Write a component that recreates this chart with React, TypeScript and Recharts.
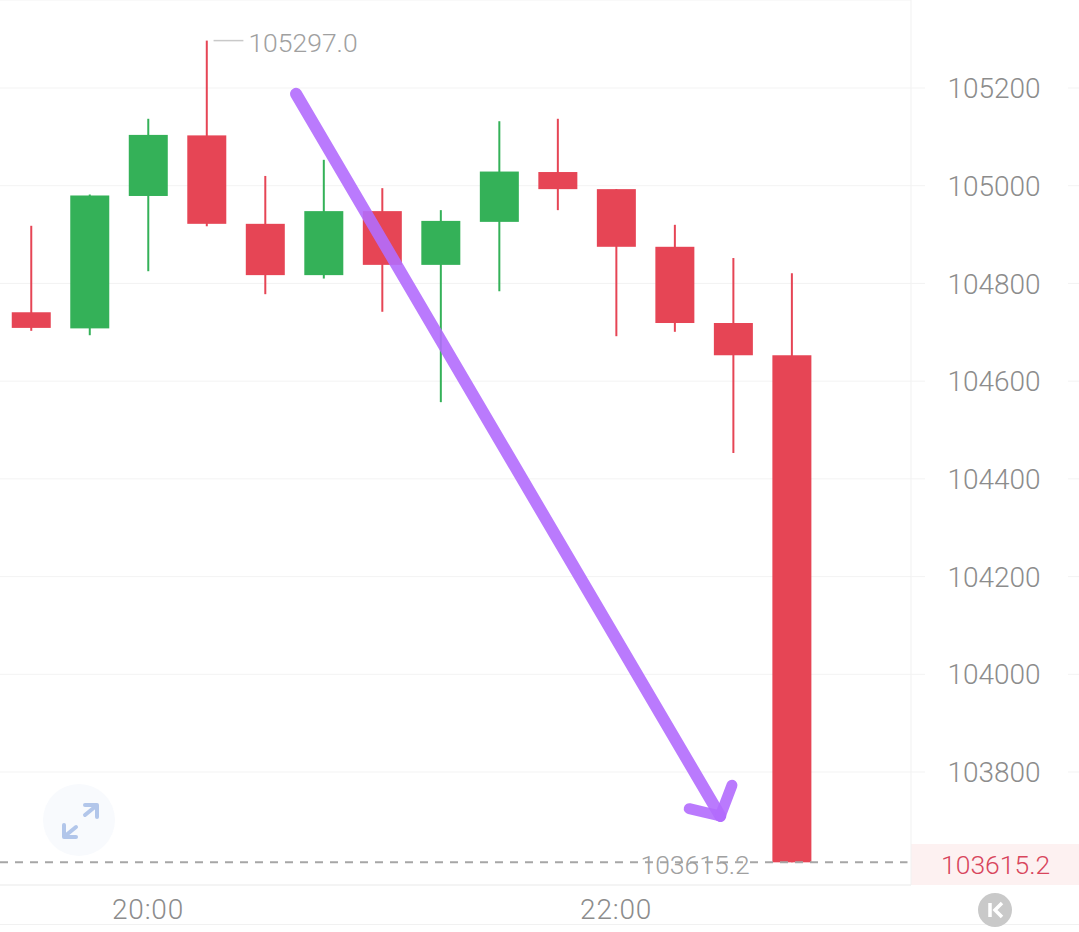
import React from 'react';
import { ComposedChart, Bar, XAxis, YAxis, CartesianGrid, ReferenceLine, ReferenceDot } from 'recharts';

const times = ['19:30', '19:45', '20:00', '20:15', '20:30', '20:45', '21:00', '21:15', '21:30', '21:45', '22:00', '22:15', '22:30', '22:45'];
const opens = [104741, 104708, 104979, 105103, 104922, 104817, 104948, 104838, 104926, 105028, 104993, 104875, 104719, 104653];
const closes = [104709, 104980, 105104, 104922, 104817, 104948, 104838, 104928, 105029, 104993, 104875, 104719, 104653, 103615.2];
const highs = [104918, 104982, 105137, 105297, 105020, 105053, 104995, 104950, 105132, 105137, 104993, 104920, 104852, 104821];
const lows = [104703, 104694, 104825, 104917, 104778, 104810, 104742, 104557, 104784, 104950, 104692, 104701, 104453, 103615.2];

const priceTicks = [103800, 104000, 104200, 104400, 104600, 104800, 105000, 105200];
const timeTicks = [2, 10];
const lastPrice = 103615.2;
const highPrice = 105297.0;

// hand drawn arrow, [index, price]
const arrowShaft = [[4.53, 105188], [11.78, 103710]];
const arrowLeft = [[11.25, 103725], [11.78, 103710]];
const arrowRight = [[11.98, 103773], [11.78, 103710]];

const RED = '#e64555';
const GREEN = '#34b158';
const PURPLE = '#b26bfd';
const FONT = 'Roboto, sans-serif';

const rows = times.map((time, i) => ({
  i,
  time,
  open: opens[i],
  close: closes[i],
  high: highs[i],
  low: lows[i],
  range: [lows[i], highs[i]],
}));

const Candle = (props: any) => {
  const { x, y, width, height, payload } = props;
  const { open, close, high, low } = payload;
  const color = close >= open ? GREEN : RED;
  const perUnit = height / (high - low);
  const top = y + (high - Math.max(open, close)) * perUnit;
  const bottom = y + (high - Math.min(open, close)) * perUnit;
  return (
    <g>
      <line x1={x + width / 2} x2={x + width / 2} y1={y} y2={y + height} stroke={color} strokeWidth={2} />
      <rect x={x} y={top} width={width} height={bottom - top} fill={color} />
    </g>
  );
};

const PriceTick = ({ x, y, payload }: any) => (
  <g>
    <line x1={x - 8} x2={x + 6} y1={y} y2={y} stroke="#f3f3f3" />
    <line x1={x + 149} x2={x + 160} y1={y} y2={y} stroke="#f3f3f3" />
    <text x={x + 75} y={y} dy="0.36em" textAnchor="middle" fill="#8c8c8c" fontSize={28} fontWeight={300} fontFamily={FONT}>
      {payload.value}
    </text>
  </g>
);

const App = () => (
  <div style={{ position: 'absolute', left: 0, top: 0, width: 1079, height: 932, background: '#fff', overflow: 'hidden' }}>
    <div style={{ position: 'absolute', left: 911, top: 844, width: 168, height: 41, background: '#fdf1f1' }} />
    <div style={{ position: 'absolute', left: 0, top: 924, width: 1079, height: 1, background: '#f1f1f1' }} />
    <svg width={1079} height={932} style={{ position: 'absolute', left: 0, top: 0 }}>
      <circle cx={79} cy={820} r={36} fill="#f8fafd" />
      <g stroke="#b2c6ea" strokeWidth={4} fill="none" strokeLinecap="round" strokeLinejoin="round">
        <path d="M85 815 L96 806 M85 805 L97 805 L97 817" />
        <path d="M65 836 L76 827 M64 825 L64 837 L76 837" />
      </g>
      <circle cx={995} cy={910} r={17} fill="#c9c9c9" />
      <g stroke="#fff" strokeWidth={3.5} fill="none">
        <path d="M990 903 L990 917" />
        <path d="M1002 903 L995 910 L1002 917" />
      </g>
    </svg>
    <div style={{ position: 'absolute', left: 0, top: 0 }}>
      <ComposedChart width={1079} height={932} data={rows} margin={{ top: 0, right: 0, bottom: 0, left: 0 }}>
        <CartesianGrid vertical={false} stroke="#f3f3f3" />
        <XAxis
          dataKey="i"
          type="number"
          domain={[-0.53, 15.04]}
          allowDataOverflow
          ticks={timeTicks}
          tickFormatter={(v: number) => times[v]}
          height={47}
          stroke="#efefef"
          tickLine={false}
          tick={{ fill: '#8c8c8c', fontSize: 28, fontWeight: 300, fontFamily: FONT, letterSpacing: 0.8 }}
          tickMargin={8}
        />
        <YAxis
          orientation="right"
          type="number"
          width={168}
          domain={[103568.8, 105380.1]}
          allowDataOverflow
          ticks={priceTicks}
          interval={0}
          stroke="#f1f1f1"
          tickLine={false}
          tick={<PriceTick />}
        />
        <Bar dataKey="range" barSize={39} shape={<Candle />} isAnimationActive={false} />
        <ReferenceLine
          segment={[{ x: -0.53, y: lastPrice }, { x: 14.98, y: lastPrice }]}
          stroke="#a6a6a6"
          strokeWidth={2}
          strokeDasharray="8 7"
        />
        <ReferenceDot
          x={11.35}
          y={lastPrice}
          r={0}
          stroke="none"
          label={{ value: '103615.2', position: 'center', dy: 2, fill: '#a0a0a0', fontSize: 26.5, fontWeight: 300, fontFamily: FONT }}
        />
        <ReferenceDot
          x={15.04}
          y={lastPrice}
          r={0}
          stroke="none"
          ifOverflow="visible"
          label={{ value: '103615.2', position: 'right', offset: 30, dy: 2, fill: '#d8455c', fontSize: 26.5, fontWeight: 300, fontFamily: FONT }}
        />
        <ReferenceLine
          segment={[{ x: 3.12, y: highPrice }, { x: 3.63, y: highPrice }]}
          stroke="#c9c9c9"
          strokeWidth={1.5}
        />
        <ReferenceDot
          x={3.63}
          y={highPrice}
          r={0}
          stroke="none"
          label={{ value: '105297.0', position: 'right', offset: 5, dy: 2, fill: '#a0a0a0', fontSize: 26.5, fontWeight: 300, fontFamily: FONT }}
        />
        {[arrowShaft, arrowLeft, arrowRight].map((seg, k) => (
          <ReferenceLine
            key={k}
            segment={[{ x: seg[0][0], y: seg[0][1] }, { x: seg[1][0], y: seg[1][1] }]}
            stroke={PURPLE}
            strokeWidth={k === 0 ? 12 : 11}
            strokeLinecap="round"
            strokeOpacity={0.9}
          />
        ))}
      </ComposedChart>
    </div>
  </div>
);

export default App;
